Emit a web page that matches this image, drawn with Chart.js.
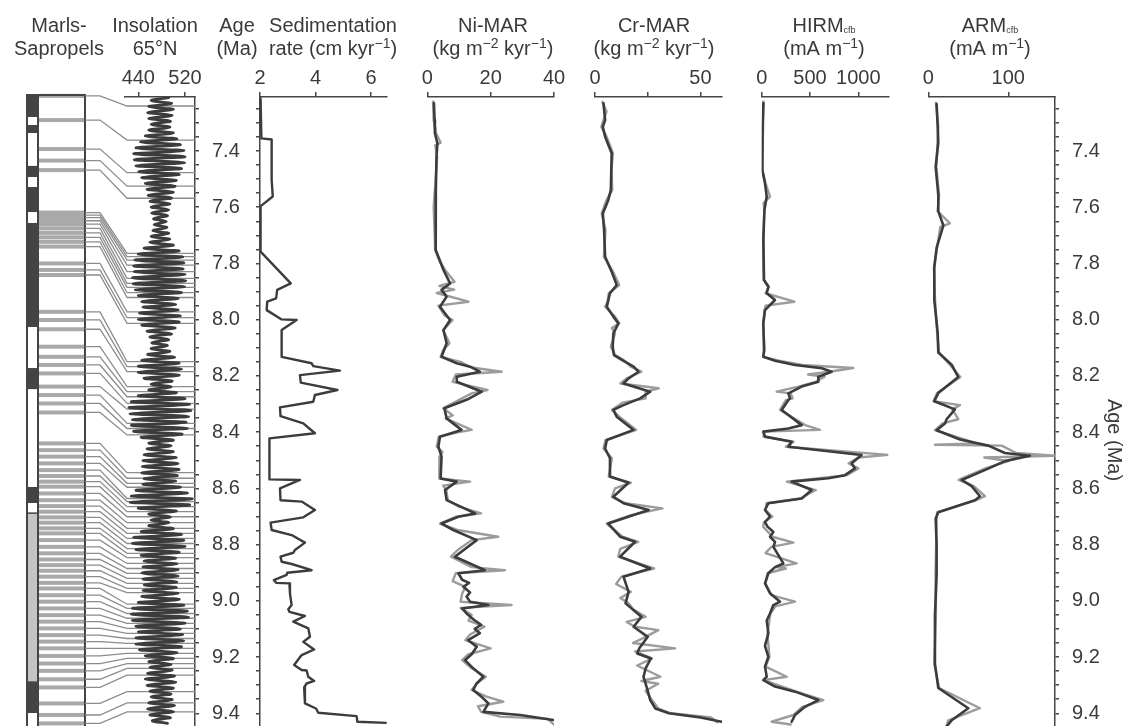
<!DOCTYPE html>
<html><head><meta charset="utf-8">
<script src="https://cdn.jsdelivr.net/npm/chart.js@4.4.1/dist/chart.umd.min.js"></script>
<style>
html,body{margin:0;padding:0;background:#fff;overflow:hidden;}
#wrap{position:relative;width:1127px;height:726px;background:#fff;}
canvas{position:absolute;left:0;top:0;}
</style></head><body><div id="wrap">
<canvas id="cIns" width="1127" height="726"></canvas>
<canvas id="cSed" width="1127" height="726"></canvas>
<canvas id="cNi" width="1127" height="726"></canvas>
<canvas id="cCr" width="1127" height="726"></canvas>
<canvas id="cHirm" width="1127" height="726"></canvas>
<canvas id="cArm" width="1127" height="726"></canvas>
</div>
<script>
// ---------------- DATA ----------------
const AGE_MIN = 7.2079, AGE_MAX = 9.4452;
const ageTicks = [7.25,7.30,7.35,7.40,7.45,7.50,7.55,7.60,7.65,7.70,7.75,7.80,7.85,7.90,7.95,8.00,8.05,8.10,8.15,8.20,8.25,8.30,8.35,8.40,8.45,8.50,8.55,8.60,8.65,8.70,8.75,8.80,8.85,8.90,8.95,9.00,9.05,9.10,9.15,9.20,9.25,9.30,9.35,9.40];
const ageLabels = ['7.4','7.6','7.8','8.0','8.2','8.4','8.6','8.8','9.0','9.2','9.4'];

const insTicks = [440, 520];
const sedTicks = [2, 4, 6];
const niTicks = [0, 20, 40];
const crTicks = [0, 25, 50];
const crLabels = ['0', '', '50'];
const hirmTicks = [0, 500, 1000];
const armTicks = [0, 100];

// Marls-sapropels column (position in column, drawn on the age axis) and tuned age of each sapropel
const sapColumn = [7.204,7.290,7.393,7.434,7.468,
 7.619,7.628,7.637,7.648,7.660,7.675,7.691,7.707,7.723,7.740,7.800,7.823,7.841,
 7.972,8.001,8.034,
 8.096,8.132,8.161,8.191,8.238,8.268,8.298,8.330,
 8.440,8.464,8.487,8.511,8.535,8.556,8.576,8.594,8.618,8.642,8.663,8.683,8.703,8.722,8.742,8.760,8.784,8.808,8.831,8.853,
 8.873,8.893,8.914,8.936,8.956,8.980,9.003,9.027,9.051,9.074,9.098,9.122,9.145,9.169,9.196,9.223,9.249,9.279,9.308,9.365,9.406,9.436];
const sapAge = [7.240,7.361,7.477,7.525,7.568,
 7.764,7.776,7.788,7.806,7.829,7.853,7.871,7.885,7.904,7.921,7.972,7.993,8.013,
 8.149,8.167,8.185,
 8.238,8.256,8.274,8.298,8.318,8.369,8.387,8.410,
 8.544,8.564,8.582,8.596,8.636,8.647,8.665,8.683,8.701,8.722,8.742,8.760,8.778,8.796,8.814,8.831,8.846,8.867,8.885,8.902,
 8.920,8.938,8.956,8.971,9.012,9.027,9.045,9.062,9.080,9.098,9.116,9.134,9.151,9.169,9.187,9.205,9.223,9.240,9.264,9.323,9.363,9.395];
const columnDark = [[7.201,7.279],[7.3075,7.336],[7.453,7.4925],[7.528,7.617],[7.656,8.026],[8.172,8.247],[8.595,8.652],[9.289,9.399]];
const columnGray = [[8.688,9.289]];

// Insolation 65N  [age, W m-2]
const insolation = [[7.210,492],[7.221,462],[7.231,497],[7.242,458],[7.252,500],[7.263,456],[7.273,498],[7.284,458],[7.294,495],[7.305,462],[7.315,494],[7.326,458],[7.336,500],[7.347,452],[7.357,506],
[7.368,444],[7.378,512],[7.389,436],[7.399,518],[7.410,432],[7.420,520],[7.431,433],[7.441,519],[7.452,436],[7.462,514],[7.473,441],[7.483,510],[7.494,446],[7.504,505],[7.515,452],[7.525,503],[7.536,455],[7.546,500],[7.557,457],[7.567,497],[7.578,460],[7.588,494],[7.599,462],[7.609,492],[7.620,463],[7.630,490],[7.641,466],[7.651,488],[7.662,467],[7.672,489],[7.683,465],[7.693,492],[7.704,462],[7.714,494],[7.725,460],[7.735,500],[7.746,450],
[7.756,510],[7.767,440],[7.777,516],[7.788,434],[7.798,518],[7.809,432],[7.819,517],[7.830,433],[7.840,520],[7.851,430],[7.861,521],[7.872,431],[7.882,519],[7.893,435],[7.903,514],[7.914,440],[7.924,508],[7.935,446],[7.945,504],[7.956,448],[7.966,508],[7.977,442],[7.987,512],[7.998,440],[8.008,510],[8.019,446],[8.029,503],[8.040,455],[8.050,497],[8.061,460],[8.071,492],[8.082,463],[8.092,490],[8.103,462],[8.113,494],[8.124,456],[8.134,502],[8.145,446],[8.155,510],[8.166,440],[8.176,514],[8.187,440],[8.197,510],[8.208,450],[8.218,498],[8.229,462],[8.239,496],[8.250,458],[8.260,505],[8.271,440],
[8.281,520],[8.292,428],[8.302,528],[8.313,424],[8.323,530],[8.334,426],[8.344,526],[8.355,430],[8.365,522],[8.376,428],[8.386,524],[8.397,432],[8.407,515],[8.418,445],
[8.428,500],[8.439,458],[8.449,496],[8.460,455],[8.470,500],[8.481,450],[8.491,505],[8.502,448],[8.512,508],[8.523,447],[8.533,510],[8.544,446],[8.554,507],[8.565,450],[8.575,504],[8.586,448],[8.596,512],[8.607,436],
[8.617,524],[8.628,428],[8.638,532],[8.649,426],[8.659,528],[8.670,440],
[8.680,505],[8.691,458],[8.701,495],[8.712,462],[8.722,492],[8.733,458],[8.743,500],[8.754,445],
[8.764,514],[8.775,432],[8.785,518],[8.796,430],[8.806,520],[8.817,436],[8.827,510],[8.838,445],
[8.848,504],[8.859,450],[8.869,506],[8.880,448],[8.890,508],[8.901,446],[8.911,508],[8.922,448],[8.932,506],[8.943,450],[8.953,505],[8.964,448],[8.974,508],[8.985,446],[8.995,510],[9.006,440],
[9.016,518],[9.027,430],[9.037,524],[9.048,428],[9.058,526],[9.069,430],[9.079,520],[9.090,436],[9.100,512],[9.111,440],[9.121,516],[9.132,436],[9.142,518],[9.153,436],[9.163,514],[9.174,442],
[9.184,506],[9.195,452],[9.205,500],[9.216,458],[9.226,496],[9.237,460],[9.247,498],[9.258,456],[9.268,502],[9.279,452],[9.289,504],[9.300,455],
[9.310,500],[9.321,460],[9.331,496],[9.342,462],[9.352,498],[9.363,458],[9.373,502],[9.384,456],[9.394,500],[9.405,460],[9.415,495],[9.426,464],[9.436,490]];

// Sedimentation rate [age, cm/kyr]
const sedRate = [[7.213,2.02],[7.355,2.05],[7.359,2.42],[7.503,2.42],[7.562,2.46],[7.598,2.00],[7.758,2.02],[7.871,3.11],[7.894,2.62],[7.924,2.58],[7.936,2.26],[7.966,2.24],[7.999,2.78],[8.001,3.32],[8.037,2.78],[8.132,2.78],[8.155,3.86],[8.165,3.92],[8.181,4.88],[8.197,3.44],[8.224,3.47],[8.250,4.79],[8.268,3.98],[8.292,3.92],[8.312,2.72],[8.343,2.74],[8.369,3.56],[8.404,3.98],[8.422,2.34],[8.568,2.34],[8.570,3.44],[8.600,2.72],[8.642,2.74],[8.647,3.50],[8.677,3.98],[8.703,3.56],[8.722,2.38],[8.748,2.42],[8.766,3.14],[8.793,3.62],[8.819,3.26],[8.829,3.20],[8.843,2.74],[8.861,2.78],[8.869,3.14],[8.891,3.86],[8.900,2.98],[8.908,2.96],[8.926,2.50],[8.936,2.58],[8.938,3.06],[8.974,3.08],[9.015,3.14],[9.030,3.02],[9.039,3.06],[9.054,3.62],[9.074,3.20],[9.098,3.74],[9.128,3.80],[9.146,3.56],[9.173,3.95],[9.193,3.50],[9.228,3.23],[9.246,3.50],[9.248,3.68],[9.270,3.74],[9.285,3.95],[9.294,3.68],[9.308,3.59],[9.365,3.62],[9.383,4.02],[9.398,4.10],[9.410,5.48],[9.430,5.51],[9.434,6.56]];

// Ni-MAR [age, kg m-2 kyr-1]
const niSmooth = [[7.230,2.1],[7.290,2.3],[7.337,2.4],[7.373,3.2],[7.420,2.9],[7.539,2.7],[7.657,2.6],[7.752,2.7],[7.776,3.5],[7.823,5.1],[7.871,7.2],[7.894,4.5],[7.918,6.1],[7.954,4.0],[8.001,7.2],[8.037,5.1],[8.084,6.1],[8.108,5.3],[8.132,4.5],[8.155,9.3],[8.167,13.5],[8.185,16.6],[8.203,9.3],[8.221,9.3],[8.256,17.2],[8.282,13.0],[8.315,5.4],[8.351,6.1],[8.392,10.8],[8.416,4.0],[8.452,3.5],[8.487,4.5],[8.565,4.2],[8.576,9.3],[8.606,5.6],[8.642,6.1],[8.689,15.1],[8.701,9.8],[8.725,4.5],[8.748,8.2],[8.784,15.6],[8.843,8.7],[8.891,18.2],[8.902,9.8],[8.925,11.0],[8.936,13.2],[8.950,11.4],[8.970,13.5],[8.985,12.4],[9.003,13.5],[9.015,19.3],[9.027,11.0],[9.045,12.4],[9.068,14.8],[9.085,17.0],[9.100,15.0],[9.115,16.6],[9.140,12.9],[9.163,15.6],[9.190,14.0],[9.211,11.9],[9.240,14.5],[9.270,17.7],[9.295,15.5],[9.317,14.5],[9.340,17.0],[9.365,19.3],[9.395,17.7],[9.406,29.3],[9.424,39.8]];
const niRaw = [[7.225,1.8],[7.290,2.0],[7.337,2.8],[7.370,4.2],[7.380,2.5],[7.420,3.1],[7.539,2.4],[7.600,2.0],[7.657,2.2],[7.752,2.5],[7.790,3.8],[7.823,5.6],[7.865,8.6],[7.880,3.8],[7.893,8.5],[7.905,3.0],[7.936,13.0],[7.950,3.5],[7.985,5.5],[8.001,8.0],[8.037,5.0],[8.084,7.0],[8.108,5.0],[8.132,4.2],[8.150,10.5],[8.170,14.0],[8.185,23.5],[8.195,9.0],[8.221,8.0],[8.250,19.0],[8.262,14.0],[8.280,11.0],[8.315,5.0],[8.340,8.0],[8.351,5.8],[8.392,14.0],[8.400,10.0],[8.416,3.6],[8.452,3.0],[8.470,4.8],[8.487,4.0],[8.565,3.8],[8.576,13.5],[8.590,5.0],[8.606,6.0],[8.642,6.5],[8.665,10.0],[8.689,17.0],[8.701,9.0],[8.725,4.0],[8.748,9.5],[8.772,22.4],[8.784,14.0],[8.820,9.5],[8.843,7.5],[8.880,14.0],[8.891,24.5],[8.902,9.0],[8.930,8.0],[8.950,12.0],[8.975,11.0],[9.003,10.5],[9.015,26.6],[9.025,10.5],[9.050,14.0],[9.070,13.0],[9.092,18.0],[9.120,13.5],[9.140,12.0],[9.169,20.0],[9.190,13.0],[9.211,11.0],[9.240,14.0],[9.270,18.5],[9.290,16.0],[9.317,14.0],[9.340,18.5],[9.359,24.0],[9.375,16.0],[9.395,17.0],[9.412,23.0],[9.420,38.0],[9.440,40.0]];

// Cr-MAR [age, kg m-2 kyr-1]
const crSmooth = [[7.230,4.0],[7.290,4.8],[7.314,3.7],[7.349,4.8],[7.408,7.9],[7.539,7.5],[7.574,6.3],[7.622,3.7],[7.681,4.3],[7.776,4.8],[7.829,7.9],[7.877,10.3],[7.906,7.1],[7.954,5.6],[7.989,8.7],[8.013,11.1],[8.049,8.7],[8.096,8.4],[8.126,9.0],[8.143,12.7],[8.167,18.3],[8.185,20.6],[8.209,15.9],[8.227,13.5],[8.256,26.2],[8.280,21.4],[8.304,13.5],[8.321,8.7],[8.345,10.3],[8.392,18.3],[8.428,5.6],[8.458,4.8],[8.493,7.1],[8.558,7.1],[8.580,15.9],[8.630,8.7],[8.653,13.5],[8.677,25.5],[8.695,18.3],[8.725,6.3],[8.772,11.9],[8.790,19.0],[8.843,11.9],[8.885,26.2],[8.914,13.5],[8.968,15.9],[9.009,14.5],[9.057,22.0],[9.092,18.3],[9.128,25.0],[9.169,21.0],[9.187,20.0],[9.205,26.5],[9.240,24.0],[9.270,23.0],[9.320,25.0],[9.353,26.2],[9.383,28.6],[9.400,35.0],[9.415,50.0],[9.430,60.0]];
const crRaw = [[7.225,3.5],[7.260,5.5],[7.290,4.0],[7.314,3.0],[7.349,5.5],[7.408,8.5],[7.470,7.8],[7.539,8.2],[7.574,5.5],[7.622,3.2],[7.681,5.0],[7.776,4.2],[7.829,8.5],[7.877,11.5],[7.906,6.5],[7.935,6.0],[7.954,4.8],[7.989,9.5],[8.013,11.5],[8.030,8.0],[8.049,9.5],[8.096,7.5],[8.126,9.5],[8.143,13.5],[8.167,17.0],[8.185,22.0],[8.209,15.0],[8.227,12.0],[8.244,30.2],[8.256,24.0],[8.280,24.0],[8.295,13.0],[8.321,8.0],[8.345,11.5],[8.392,19.5],[8.428,5.0],[8.458,4.0],[8.493,8.0],[8.558,6.5],[8.580,17.0],[8.600,9.5],[8.630,8.0],[8.653,14.5],[8.671,32.0],[8.695,17.0],[8.725,5.5],[8.772,13.0],[8.790,20.5],[8.815,12.0],[8.843,11.0],[8.885,28.0],[8.914,12.5],[8.940,10.0],[8.968,17.0],[8.990,12.0],[9.009,16.0],[9.030,18.0],[9.057,24.0],[9.075,15.0],[9.092,19.0],[9.104,30.0],[9.128,24.0],[9.150,18.0],[9.169,38.0],[9.180,19.0],[9.205,27.0],[9.230,20.0],[9.270,31.0],[9.285,22.0],[9.295,30.0],[9.320,24.0],[9.353,27.0],[9.383,30.0],[9.400,36.0],[9.415,55.0],[9.432,58.0]];

// HIRM_cfb [age, mA m-1]
const hirmSmooth = [[7.230,17],[7.302,10],[7.468,7],[7.515,34],[7.562,52],[7.610,28],[7.717,17],[7.859,24],[7.883,69],[7.906,52],[7.930,138],[7.966,34],[8.013,17],[8.108,24],[8.132,17],[8.146,138],[8.161,345],[8.173,621],[8.185,724],[8.203,586],[8.221,586],[8.238,414],[8.262,276],[8.280,293],[8.286,276],[8.321,207],[8.375,414],[8.387,276],[8.398,17],[8.416,34],[8.434,310],[8.452,276],[8.481,1034],[8.511,931],[8.529,965],[8.553,862],[8.564,690],[8.576,310],[8.606,517],[8.636,414],[8.653,69],[8.677,34],[8.700,86],[8.720,34],[8.736,60],[8.755,121],[8.772,86],[8.790,138],[8.808,121],[8.867,224],[8.880,138],[8.902,69],[8.938,34],[8.973,86],[9.003,190],[9.015,121],[9.045,86],[9.070,52],[9.116,69],[9.160,34],[9.199,69],[9.234,34],[9.270,52],[9.282,17],[9.305,138],[9.323,345],[9.353,586],[9.377,448],[9.406,345],[9.430,310]];
const hirmRaw = [[7.225,20],[7.302,15],[7.468,5],[7.515,40],[7.562,86],[7.585,20],[7.610,28],[7.717,15],[7.859,20],[7.883,75],[7.906,40],[7.936,338],[7.950,40],[7.966,30],[8.013,15],[8.108,30],[8.132,15],[8.146,180],[8.161,420],[8.172,948],[8.185,700],[8.195,480],[8.203,650],[8.221,560],[8.238,380],[8.256,155],[8.262,300],[8.280,320],[8.286,250],[8.321,190],[8.375,450],[8.392,603],[8.398,20],[8.416,20],[8.434,330],[8.452,250],[8.481,1310],[8.490,1000],[8.511,900],[8.529,1000],[8.553,880],[8.564,600],[8.576,260],[8.606,560],[8.636,400],[8.653,50],[8.677,40],[8.700,110],[8.720,25],[8.736,15],[8.772,110],[8.793,328],[8.808,100],[8.830,40],[8.867,362],[8.880,150],[8.885,250],[8.902,60],[8.938,40],[8.980,100],[9.003,345],[9.020,140],[9.045,90],[9.116,60],[9.199,80],[9.234,40],[9.270,259],[9.282,20],[9.323,360],[9.353,638],[9.377,420],[9.406,330],[9.430,103],[9.440,300]];

// ARM_cfb [age, mA m-1]
const armSmooth = [[7.233,10.4],[7.312,11.7],[7.370,12.5],[7.456,9.2],[7.557,12.5],[7.614,12.5],[7.665,18.8],[7.744,10.4],[7.815,7.5],[7.930,7.5],[8.045,11.7],[8.117,12.5],[8.160,29.2],[8.204,37.5],[8.261,12.5],[8.290,7.5],[8.319,33.3],[8.354,22.9],[8.369,20.8],[8.393,10.4],[8.426,39.6],[8.448,75.0],[8.474,95.8],[8.484,127.0],[8.503,95.8],[8.527,77.0],[8.570,41.7],[8.592,54.2],[8.628,64.6],[8.642,58.3],[8.685,12.5],[8.707,9.2],[8.800,10.4],[8.908,10.4],[9.052,8.3],[9.224,8.3],[9.310,12.5],[9.382,50.0],[9.425,29.2],[9.454,20.8]];
const armRaw = [[7.228,9.5],[7.312,12.5],[7.370,11.5],[7.456,10.0],[7.557,13.5],[7.614,11.5],[7.657,27.0],[7.670,15.0],[7.744,11.0],[7.815,7.0],[7.930,8.5],[8.045,11.0],[8.117,13.5],[8.160,27.0],[8.204,40.0],[8.261,11.0],[8.290,6.5],[8.304,39.6],[8.319,30.0],[8.354,37.5],[8.369,18.0],[8.393,8.5],[8.426,45.0],[8.440,60.0],[8.445,8.3],[8.448,91.7],[8.474,110.0],[8.484,158.0],[8.490,70.0],[8.503,100.0],[8.527,73.0],[8.570,38.0],[8.592,57.0],[8.628,70.8],[8.642,60.0],[8.685,11.0],[8.707,10.5],[8.908,9.0],[9.052,9.5],[9.224,7.5],[9.310,13.5],[9.382,64.6],[9.425,25.0],[9.454,22.0]];

// ---------------- STYLE / HELPERS ----------------
const FONT = '"Liberation Sans", Arial, Helvetica, sans-serif';
const TXT = '#3a3a3a';
const AXC = '#454545';
const DARK = '#3c3c3c';
const LIGHT = '#9c9c9c';
const W = 1127;

const pts = arr => arr.map(([a, v]) => ({x: v, y: a}));
function line(arr, color, w, order, tension) {
  return {data: pts(arr), borderColor: color, borderWidth: w, pointRadius: 0, tension: tension || 0, fill: false,
          borderJoinStyle: 'round', borderCapStyle: 'round', order: order || 0};
}
function ageLabel(v) {
  const s = (Math.round(v * 100) / 100).toFixed(1);
  return (Math.round(v * 100) % 20 === 0 && ageLabels.includes(s)) ? s : '';
}
function xScale(min, max, ticks, labels) {
  return {
    type: 'linear', position: 'top', min, max,
    afterBuildTicks: s => { s.ticks = ticks.map(v => ({value: v})); },
    afterFit: s => { s.height = 97; s.paddingLeft = 0; s.paddingRight = 0; },
    grid: {display: true, drawOnChartArea: false, drawTicks: true, tickLength: 5, color: AXC, lineWidth: 1.5},
    border: {display: true, color: AXC, width: 1.5},
    ticks: {color: TXT, font: {family: FONT, size: 20}, padding: 2, maxRotation: 0, autoSkip: false,
            callback: (v, i) => labels ? labels[i] : String(v)}
  };
}
function yScale(extra) {
  return Object.assign({
    type: 'linear', reverse: true, min: AGE_MIN, max: AGE_MAX, display: false,
    afterFit: s => { s.paddingTop = 0; s.paddingBottom = 0; }
  }, extra || {});
}
function ageAxis(position, width, showLabels) {
  return yScale({
    display: true, position,
    afterBuildTicks: s => { s.ticks = ageTicks.map(v => ({value: v})); },
    afterFit: s => { s.width = width; s.paddingTop = 0; s.paddingBottom = 0; },
    grid: {display: true, drawOnChartArea: false, drawTicks: true, tickLength: 4, color: AXC, lineWidth: 1.5},
    border: {display: true, color: AXC, width: 1.5},
    ticks: {display: showLabels, color: TXT, font: {family: FONT, size: 20}, padding: 13, autoSkip: false,
            callback: v => ageLabel(v)}
  });
}
function panel(id, o) {
  return new Chart(document.getElementById(id), {
    type: 'line',
    data: {datasets: o.datasets},
    options: {
      responsive: false, animation: false, devicePixelRatio: 1, events: [],
      layout: {padding: {left: o.left, right: o.right, top: 0, bottom: 0}},
      plugins: {legend: {display: false}, tooltip: {enabled: false}},
      scales: {x: xScale(o.xmin, o.xmax, o.xticks, o.xlabels), y: o.y || yScale()}
    },
    plugins: o.plugins || []
  });
}

// rich text (superscript ^{..}, subscript _{..})
function parseRich(s) {
  const out = []; const re = /([\^_])\{([^}]*)\}/g; let last = 0, m;
  while ((m = re.exec(s))) {
    if (m.index > last) out.push({t: s.slice(last, m.index), m: 'n'});
    out.push({t: m[2], m: m[1] === '^' ? 'sup' : 'sub'});
    last = re.lastIndex;
  }
  if (last < s.length) out.push({t: s.slice(last), m: 'n'});
  return out;
}
function drawRich(ctx, s, cx, baseY, size) {
  const segs = parseRich(s);
  const f = md => (md === 'n' ? size : md === 'sup' ? Math.round(size * 0.68) : Math.round(size * 0.45)) + 'px ' + FONT;
  let w = 0;
  segs.forEach(g => { ctx.font = f(g.m); g.w = ctx.measureText(g.t).width; w += g.w; });
  let x = cx - w / 2;
  segs.forEach(g => {
    ctx.font = f(g.m);
    const dy = g.m === 'sup' ? -size * 0.33 : g.m === 'sub' ? size * 0.06 : 0;
    ctx.fillText(g.t, x, baseY + dy); x += g.w;
  });
}

const titles = [
  {cx: 59, lines: ['Marls-', 'Sapropels']},
  {cx: 155, lines: ['Insolation', '65°N']},
  {cx: 237, lines: ['Age', '(Ma)']},
  {cx: 333, lines: ['Sedimentation', 'rate (cm kyr^{−1})']},
  {cx: 493, lines: ['Ni-MAR', '(kg m^{−2} kyr^{−1})']},
  {cx: 654, lines: ['Cr-MAR', '(kg m^{−2} kyr^{−1})']},
  {cx: 824, lines: ['HIRM_{cfb}', '(mA m^{−1})']},
  {cx: 990, lines: ['ARM_{cfb}', '(mA m^{−1})']}
];
const titlePlugin = {
  id: 'titles',
  afterDraw(chart) {
    const ctx = chart.ctx; ctx.save();
    ctx.fillStyle = TXT; ctx.textAlign = 'left'; ctx.textBaseline = 'alphabetic';
    titles.forEach(t => { drawRich(ctx, t.lines[0], t.cx, 32, 20); drawRich(ctx, t.lines[1], t.cx, 55, 20); });
    // right axis title
    ctx.translate(1114, 440); ctx.rotate(Math.PI / 2);
    ctx.font = '20px ' + FONT; ctx.textAlign = 'center'; ctx.textBaseline = 'middle';
    ctx.fillText('Age (Ma)', 0, 0);
    ctx.restore();
  }
};

// marls / sapropels column + correlation lines
const columnPlugin = {
  id: 'column',
  beforeDatasetsDraw(chart) {
    const ctx = chart.ctx, y = chart.scales.y;
    const barL = 27, barR = 38, boxR = 85, bendX = 100, insX = 127, axisX = chart.chartArea.right;
    const top = y.getPixelForValue(7.201), bot = 730;
    ctx.save();
    // sapropel bands
    ctx.fillStyle = '#a9a9a9';
    sapColumn.forEach(a => { const p = y.getPixelForValue(a); ctx.fillRect(barR, p - 2, boxR - barR, 4); });
    // column segments
    ctx.fillStyle = '#444';
    columnDark.forEach(([a, b]) => { const p = y.getPixelForValue(a), q = y.getPixelForValue(b); ctx.fillRect(barL, p, barR - barL, q - p); });
    ctx.fillStyle = '#c4c4c4'; ctx.strokeStyle = '#444'; ctx.lineWidth = 1.5;
    columnGray.forEach(([a, b]) => { const p = y.getPixelForValue(a), q = y.getPixelForValue(b); ctx.fillRect(barL, p, barR - barL, q - p); ctx.strokeRect(barL, p, barR - barL, q - p); });
    // outlines
    ctx.strokeStyle = '#444'; ctx.lineWidth = 2;
    ctx.beginPath(); ctx.moveTo(barL, bot); ctx.lineTo(barL, top); ctx.lineTo(boxR, top); ctx.lineTo(boxR, bot);
    ctx.moveTo(barR, top); ctx.lineTo(barR, bot); ctx.stroke();
    // correlation lines
    ctx.strokeStyle = '#8c8c8c'; ctx.lineWidth = 1.3;
    sapColumn.forEach((a, i) => {
      const p = y.getPixelForValue(a), q = y.getPixelForValue(sapAge[i]);
      ctx.beginPath(); ctx.moveTo(boxR, p); ctx.lineTo(bendX, p); ctx.lineTo(insX, q); ctx.lineTo(axisX, q); ctx.stroke();
    });
    ctx.restore();
  }
};

// ---------------- CHARTS ----------------
panel('cIns', {left: 125, right: W - 260, xmin: 417.2, xmax: 537.1, xticks: insTicks,
  y: ageAxis('right', 65, true), datasets: [line(insolation, DARK, 2.8, 0, 0.35)], plugins: [columnPlugin]});
panel('cSed', {left: 254, right: W - 386.7, xmin: 2, xmax: 6.566, xticks: sedTicks,
  y: ageAxis('left', 6, false), datasets: [line(sedRate, DARK, 2.4)]});
panel('cNi', {left: 427.3, right: W - 554, xmin: 0, xmax: 40, xticks: niTicks,
  datasets: [line(niSmooth, DARK, 2.6, 0), line(niRaw, LIGHT, 2.4, 1)]});
panel('cCr', {left: 595, right: W - 722, xmin: 0, xmax: 60.2, xticks: crTicks, xlabels: crLabels,
  datasets: [line(crSmooth, DARK, 2.6, 0), line(crRaw, LIGHT, 2.4, 1)]});
panel('cHirm', {left: 761.7, right: W - 888.3, xmin: 0, xmax: 1310, xticks: hirmTicks,
  datasets: [line(hirmSmooth, DARK, 2.6, 0), line(hirmRaw, LIGHT, 2.4, 1)]});
panel('cArm', {left: 928.3, right: 0, xmin: 0, xmax: 158.4, xticks: armTicks,
  y: ageAxis('right', 72, true), datasets: [line(armSmooth, DARK, 2.6, 0), line(armRaw, LIGHT, 2.4, 1)], plugins: [titlePlugin]});
</script>
</body></html>
